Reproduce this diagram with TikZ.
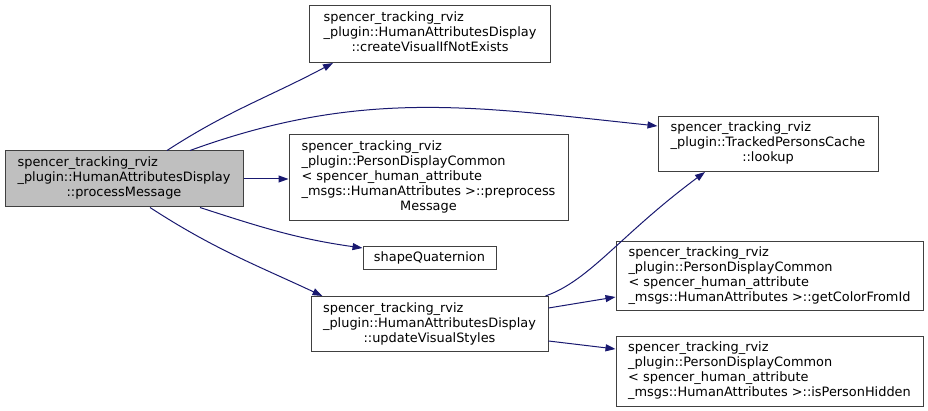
\documentclass[tikz,border=0pt]{standalone}
\usepackage{fontspec}
\setmainfont{DejaVu Sans}
\usetikzlibrary{arrows.meta}

\definecolor{edgeblue}{RGB}{25,25,112}
\definecolor{maingray}{RGB}{191,191,191}

% Doxygen-Beschriftung: Zeilen links, letzte Zeile zentriert
\newcommand{\fnlabel}[2]{\begin{tabular}{@{}l@{}}#1\\\multicolumn{1}{@{}c@{}}{#2}\end{tabular}}

\tikzset{
  fn/.style={rectangle, draw=black!75, fill=white, line width=1pt, inner sep=0pt,
    font=\fontsize{12.9}{15}\selectfont},
  fnmain/.style={fn, fill=maingray},
  call/.style={-{Triangle[length=10pt, width=7pt]}, draw=edgeblue, line width=1pt},
}

\begin{document}
\begin{tikzpicture}[x=1pt, y=1pt]
  \useasboundingbox (0,0) rectangle (928,-411);

  % Aufrufende Funktion
  \node[fnmain, minimum width=238pt, minimum height=56pt] (main) at (124,-179)
    {\fnlabel{spencer\_tracking\_rviz\\\_plugin::HumanAttributesDisplay}{::processMessage}};

  % Mittlere Spalte
  \node[fn, minimum width=241pt, minimum height=57pt] (create) at (430,-34)
    {\fnlabel{spencer\_tracking\_rviz\\\_plugin::HumanAttributesDisplay}{::createVisualIfNotExists}};
  \node[fn, minimum width=279pt, minimum height=86pt] (prep) at (428.5,-178)
    {\fnlabel{spencer\_tracking\_rviz\\\_plugin::PersonDisplayCommon\\< spencer\_human\_attribute\\\_msgs::HumanAttributes >::preprocess}{Message}};
  \node[fn, minimum width=133pt, minimum height=23pt] (shape) at (429.5,-258) {shapeQuaternion};
  \node[fn, minimum width=237pt, minimum height=55pt] (update) at (429.5,-324)
    {\fnlabel{spencer\_tracking\_rviz\\\_plugin::HumanAttributesDisplay}{::updateVisualStyles}};

  % Rechte Spalte
  \node[fn, minimum width=220pt, minimum height=55pt] (lookup) at (768,-144)
    {\fnlabel{spencer\_tracking\_rviz\\\_plugin::TrackedPersonsCache}{::lookup}};
  \node[fn, minimum width=307pt, minimum height=69pt] (color) at (769.5,-276)
    {\fnlabel{spencer\_tracking\_rviz\\\_plugin::PersonDisplayCommon\\< spencer\_human\_attribute}{\_msgs::HumanAttributes >::getColorFromId}};
  \node[fn, minimum width=307pt, minimum height=70pt] (hidden) at (769.5,-371)
    {\fnlabel{spencer\_tracking\_rviz\\\_plugin::PersonDisplayCommon\\< spencer\_human\_attribute}{\_msgs::HumanAttributes >::isPersonHidden}};

  % Aufrufe aus processMessage
  \draw[call] ([xshift=43pt]main.north) to[out=33, in=208] ([xshift=-97pt]create.south);
  \draw[call] ([xshift=66pt]main.north) to[out=20, in=174] ([yshift=18pt]lookup.west);
  \draw[call] (main.east) -- (main.east -| prep.west);
  \draw[call] ([xshift=76pt]main.south) to[out=-18, in=172] ([yshift=10pt]shape.west);
  \draw[call] ([xshift=26pt]main.south) to[out=-33, in=155] ([xshift=-107pt]update.north);

  % Aufrufe aus updateVisualStyles
  \draw[call] ([xshift=116pt]update.north) .. controls +(45,16) and +(-85,-63) .. ([xshift=-63pt]lookup.south);
  \draw[call] ([yshift=16pt]update.east) -- ([yshift=-21pt]color.west);
  \draw[call] ([yshift=-17pt]update.east) -- ([yshift=22pt]hidden.west);

\end{tikzpicture}
\end{document}
